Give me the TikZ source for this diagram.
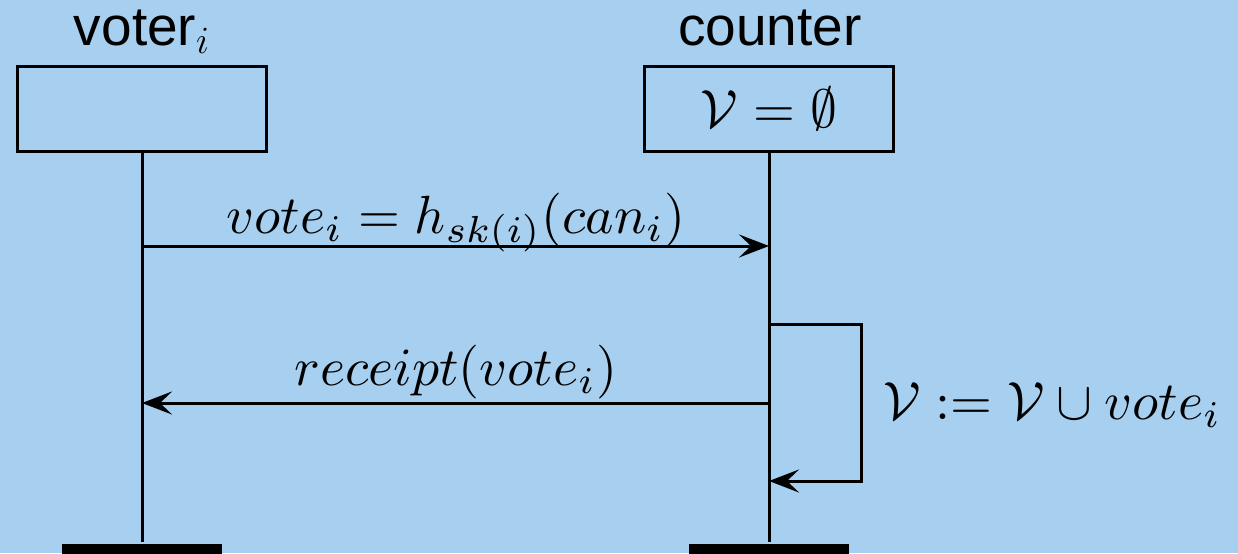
\RequirePackage{fix-cm}
\documentclass[tikz,border=0pt]{standalone}
\usepackage[no-math]{fontspec}
\usepackage{graphicx}
\setmainfont{Liberation Sans}
\usetikzlibrary{arrows.meta}
\definecolor{bg}{RGB}{167,207,239}
\newcommand{\scaledmath}[1]{\scalebox{2.69}{$#1$}}
\begin{document}
\begin{tikzpicture}[x=0.5pt,y=-0.5pt, line width=1.5pt,
  box/.style={draw, minimum width=124.5pt, minimum height=42.5pt, inner sep=0pt},
  bar/.style={fill=black, draw=none, minimum width=80pt, minimum height=8pt, inner sep=0pt},
  msg/.style={-{Stealth[length=15pt,width=11.5pt,inset=6pt]}},
  lbl/.style={font=\fontsize{27.5}{32}\selectfont, inner sep=0pt},
  mlbl/.style={font=\normalsize, inner sep=0pt}]
\useasboundingbox (0,0) rectangle (1238,553);
\fill[bg] (0,0) rectangle (1238,553);
% headers
\node[lbl, anchor=base] (vlab) at (142,45) {voter$_i$};
\node[lbl, anchor=base] (clab) at (770,45) {counter};
% boxes
\node[box] (vbox) at (142,109) {};
\node[box, mlbl] (cbox) at (769,109) {\scaledmath{\mathcal{V} = \emptyset}};
% bars
\node[bar, anchor=north] (vbar) at (142,542) {};
\node[bar, anchor=north] (cbar) at (769,542) {};
% lifelines
\draw (vbox.south) -- (vbar.north);
\draw (cbox.south) -- (cbar.north);
% coordinates
\coordinate (v1) at (142,246);
\coordinate (c1) at (769,246);
\coordinate (c2) at (769,324);
\coordinate (c3) at (769,481);
\coordinate (c4) at (769,403);
\coordinate (v4) at (142,403);
% messages
\draw[msg] (v1) -- (c1);
\node[mlbl, anchor=base] (m1) at (456,233) {\scaledmath{vote_i = h_{sk(i)}(can_i)}};
\draw[msg] (c2) -- (861,324) -- (861,481) -- (c3);
\node[mlbl, anchor=base west] (m2) at (882,419) {\scaledmath{\mathcal{V} := \mathcal{V} \cup vote_i}};
\draw[msg] (c4) -- (v4);
\node[mlbl, anchor=base] (m3) at (456,385) {\scaledmath{receipt(vote_i)}};
\end{tikzpicture}
\end{document}
